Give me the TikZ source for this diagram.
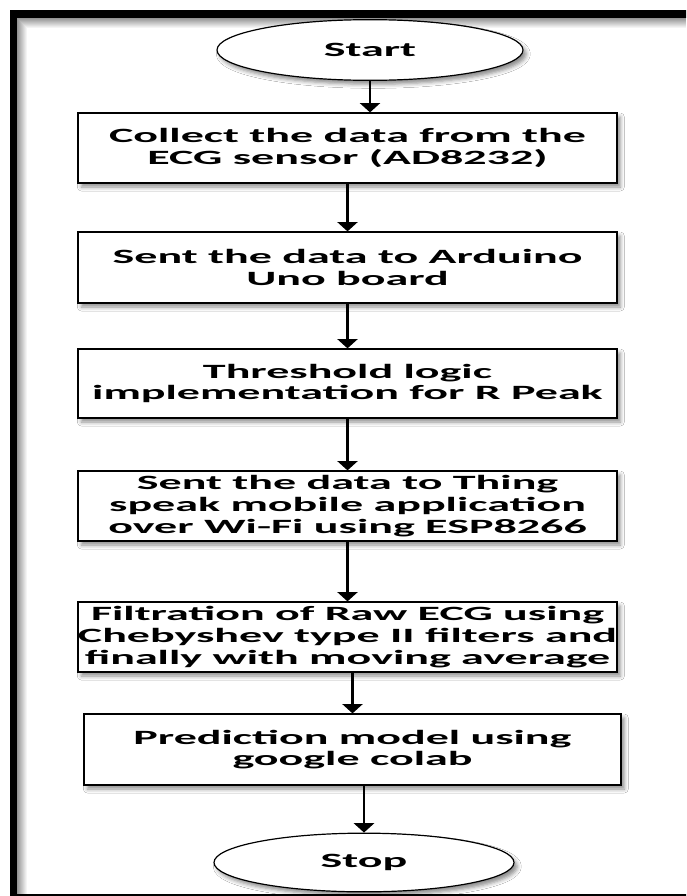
\documentclass[tikz,border=0pt]{standalone}
\usepackage{fontspec}
\newfontfamily\boxfont{Carlito}[UprightFont={* Bold}, FakeStretch=2.27]
\usetikzlibrary{arrows.meta,shapes.geometric,shadows.blur}
\begin{document}
\begin{tikzpicture}[x=0.75pt,y=-0.75pt,
  every node/.style={font=\boxfont\fontsize{15.2pt}{16.3pt}\selectfont},
  softshadow/.style={blur shadow={shadow xshift=2.5pt, shadow yshift=-3pt, shadow blur radius=3pt, shadow opacity=45}},
  procbox/.style={draw=black, line width=0.9pt, fill=white, rectangle, minimum width=404.25pt, inner sep=0pt, align=center, softshadow},
  termnode/.style={draw=black, line width=0.9pt, fill=white, ellipse, inner sep=0pt, softshadow},
  arr/.style={line width=2.2pt, -{Triangle[width=15pt,length=7pt]}}
]
\path[use as bounding box] (0,0) rectangle (686,896);
\clip (0,0) rectangle (686,896);
\fill[white] (0,0) rectangle (686,896);
% inner shadow of the frame
\foreach \i [evaluate=\i as \op using 0.42-0.042*\i] in {0,...,9}
  \draw[black, opacity=\op, line width=0.75pt] (17.5+\i, 896) -- (17.5+\i, 18.5+\i) -- (686, 18.5+\i);
% frame
\draw[black, line width=5.8pt] (13.5,14) rectangle (705,897.5);

\node[termnode, minimum width=229.5pt, minimum height=45.5pt] (start) at (370,50) {Start};
\node[procbox, minimum height=52.5pt] (b1) at (347.5,148) {Collect the data from the\\ECG sensor (AD8232)};
\node[procbox, minimum height=53.25pt] (b2) at (347.5,267.5) {Sent the data to Arduino\\Uno board};
\node[procbox, minimum height=51.75pt] (b3) at (347.5,383.5) {Threshold logic\\implementation for R Peak};
\node[procbox, minimum height=52.5pt] (b4) at (347.5,506) {Sent the data to Thing\\speak mobile application\\over Wi-Fi using ESP8266};
\node[procbox, minimum height=52.5pt] (b5) at (347.5,637) {Filtration of Raw ECG using\\Chebyshev type II filters and\\finally with moving average};
\node[procbox, minimum width=402.75pt, minimum height=53.25pt] (b6) at (352.5,749.5) {Prediction model using\\google colab};
\node[termnode, minimum width=225pt, minimum height=44pt] (stop) at (364,862.5) {Stop};

\draw[arr] (start.south) -- (start.south |- b1.north);
\draw[arr] (b1.south) -- (b2.north);
\draw[arr] (b2.south) -- (b3.north);
\draw[arr] (b3.south) -- (b4.north);
\draw[arr] (b4.south) -- (b5.north);
\draw[arr] (b5.south -| b6.north) -- (b6.north);
\draw[arr] (b6.south -| stop.north) -- (stop.north);
\end{tikzpicture}
\end{document}
